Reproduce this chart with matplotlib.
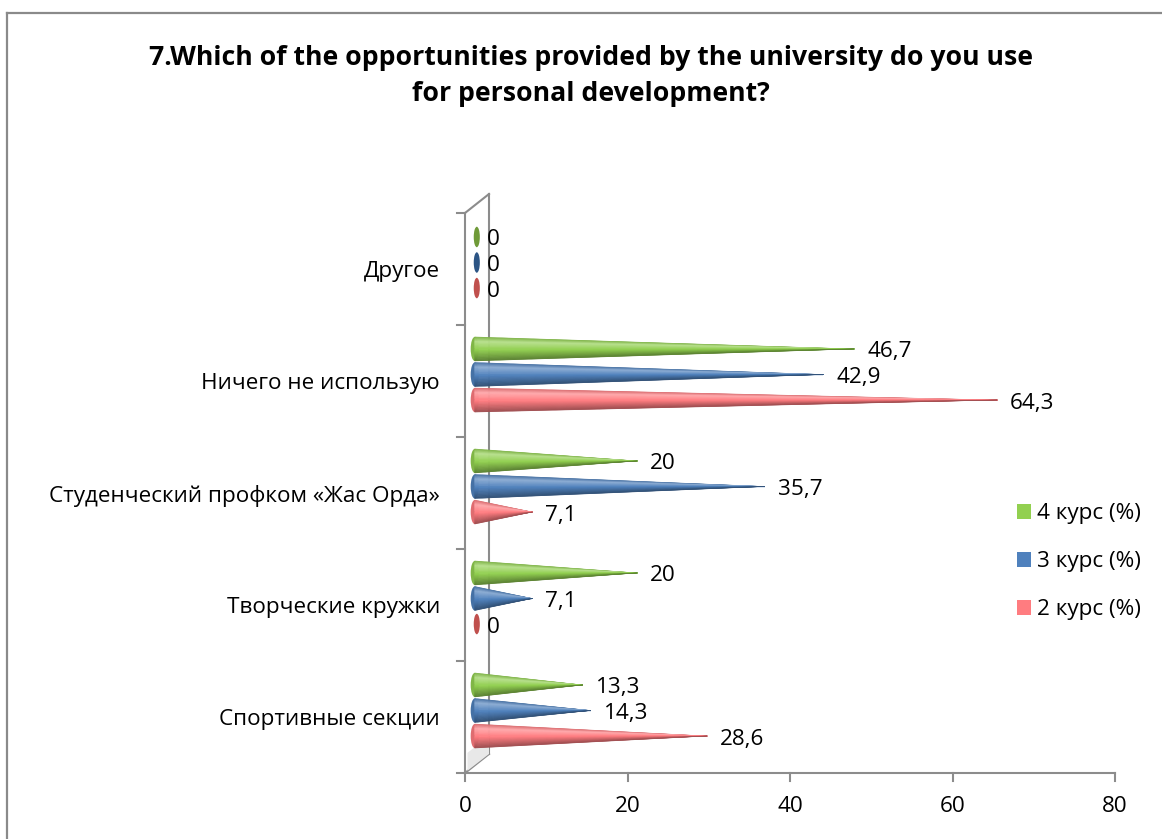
import numpy as np
import matplotlib
matplotlib.use("Agg")
import matplotlib.pyplot as plt
from matplotlib.patches import Polygon, Ellipse, Patch
from matplotlib.lines import Line2D
from matplotlib.colors import to_rgb

plt.rcParams['font.family'] = ['Open Sans', 'DejaVu Sans']

# ---- data ----
categories = ["Спортивные секции", "Творческие кружки",
              "Студенческий профком «Жас Орда»", "Ничего не использую", "Другое"]
course2 = [28.6, 0, 7.1, 64.3, 0]
course3 = [14.3, 7.1, 35.7, 42.9, 0]
course4 = [13.3, 20, 20, 46.7, 0]
series_names = ["2 курс (%)", "3 курс (%)", "4 курс (%)"]
x_ticks = [0, 20, 40, 60, 80]
title = "7.Which of the opportunities provided by the university do you use\nfor personal development?"

# ---- style ----
base_colors = ["#FF7C80", "#4F81BD", "#92D050"]
zero_colors = ["#C0504D", "#2C5585", "#6F9A38"]
axis_gray = "#8C8C8C"
fs = 16.2

W, H = 1162, 839
fig = plt.figure(figsize=(W / 100, H / 100), dpi=100)

# chart frame (top and left edges)
fig.add_artist(Line2D([7 / W, 7 / W], [0, 1 - 13 / H], color="#8A8A8A", lw=1.6,
                      transform=fig.transFigure))
fig.add_artist(Line2D([7 / W, 1], [1 - 13 / H, 1 - 13 / H], color="#8A8A8A", lw=1.6,
                      transform=fig.transFigure))

x0_px, x1_px, ytop_px, ybot_px = 465, 1115, 213, 773
ax = fig.add_axes([x0_px / W, 1 - ybot_px / H, (x1_px - x0_px) / W, (ybot_px - ytop_px) / H])
ax.set_xlim(0, 80)
ax.set_ylim(0, len(categories))
ax.axis("off")

ppx = 80 / (x1_px - x0_px)           # data units per pixel (x)
ppy = len(categories) / (ybot_px - ytop_px)  # data units per pixel (y)

# 3D wall / floor lines
dx, dy = 24 * ppx, 19 * ppy
ax.plot([0, dx], [5, 5 + dy], color=axis_gray, lw=1.5, clip_on=False, zorder=1)
ax.plot([dx, dx], [5 + dy, dy], color=axis_gray, lw=1.5, clip_on=False, zorder=1)
ax.plot([0, dx], [0, dy], color=axis_gray, lw=1.5, clip_on=False, zorder=1)
# front axes
ax.plot([0, 0], [0, 5], color=axis_gray, lw=1.5, clip_on=False, zorder=1)
ax.plot([0, 80], [0, 0], color=axis_gray, lw=1.5, clip_on=False, zorder=1)
for i in range(len(categories) + 1):
    ax.plot([-8 * ppx, 0], [i, i], color=axis_gray, lw=1.5, clip_on=False, zorder=1)
for t in x_ticks:
    ax.plot([t, t], [0, -8 * ppy], color=axis_gray, lw=1.5, clip_on=False, zorder=1)
    ax.text(t, -33 * ppy, str(t), ha="center", va="center", fontsize=fs)

# floor shadow under the first group
ax.add_patch(Polygon([(0.3, 0.02), (dx, dy), (dx, dy + 0.16), (0.3, 0.18)],
                     closed=True, facecolor="#E8E8E8", edgecolor="none", zorder=1))

for i, cat in enumerate(categories):
    ax.text(-25 * ppx, i + 0.5 - 3 * ppy, cat, ha="right", va="center", fontsize=fs)


def shade(c, t):
    """Colour across the cone height: t=0 top edge, t=1 bottom edge."""
    c = np.array(to_rgb(c))
    white = np.ones(3)
    if t < 0.2:
        k = t / 0.2
        col = c * (0.85 + 0.15 * k) + (white - c) * 0.35 * k
    elif t < 0.55:
        k = (t - 0.2) / 0.35
        col = c + (white - c) * 0.35 * (1 - k)
    else:
        k = (t - 0.55) / 0.45
        col = c * (1 - 0.38 * k)
    return np.clip(col, 0, 1)


bar_h = 0.215
gap = 0.228
base_x = 1.2
n_slices = 40
series = [course2, course3, course4]
for s, vals in enumerate(series):
    for i, v in enumerate(vals):
        yc = i + 0.5 + 0.058 + (s - 1) * gap
        if v == 0:
            ax.add_patch(Ellipse((1.45, yc), 0.75, bar_h * 0.85, facecolor=zero_colors[s],
                                 edgecolor="none", zorder=3))
            ax.text(2.65, yc - 3 * ppy, "0", ha="left", va="center", fontsize=fs, zorder=5)
            continue
        tip = base_x + v
        ytop, ybot = yc + bar_h / 2, yc - bar_h / 2
        ax.add_patch(Ellipse((base_x, yc), 1.0, bar_h, facecolor=shade(base_colors[s], 0.7),
                             edgecolor="none", zorder=3))
        edges = np.linspace(ytop, ybot, n_slices + 1)
        for k in range(n_slices):
            t = (k + 0.5) / n_slices
            ax.add_patch(Polygon([(base_x, edges[k]), (base_x, edges[k + 1]), (tip, yc)],
                                 closed=True, facecolor=shade(base_colors[s], t),
                                 edgecolor=shade(base_colors[s], t), lw=0.3, zorder=4))
        lbl = f"{v:g}".replace(".", ",")
        ax.text(tip + 13 * ppx, yc - 3 * ppy, lbl, ha="left", va="center", fontsize=fs, zorder=5)

# legend (top series first)
handles = [Patch(facecolor=base_colors[s]) for s in (2, 1, 0)]
labels = [series_names[s] for s in (2, 1, 0)]
fig.legend(handles, labels, loc="center left", bbox_to_anchor=(1008 / W, 1 - 562 / H),
           frameon=False, fontsize=fs, handlelength=0.6, handleheight=0.6,
           handletextpad=0.3, labelspacing=1.2, borderaxespad=0)

fig.text(591 / W, 1 - 76 / H, title, ha="center", va="center", fontsize=19.2,
         fontweight="bold", linespacing=1.5)

fig.savefig("out.png", dpi=100)
